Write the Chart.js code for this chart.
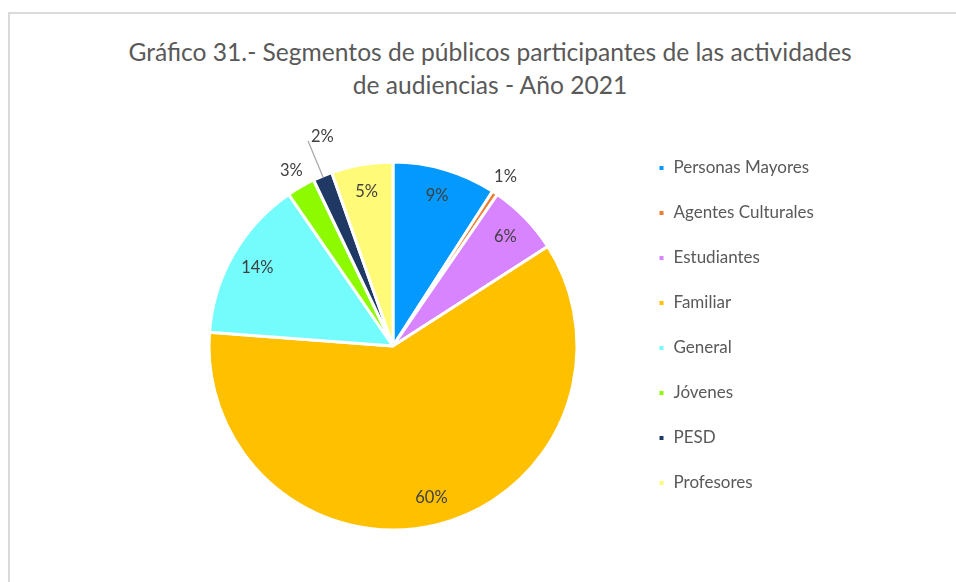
<!DOCTYPE html>
<html>
<head>
<meta charset="utf-8">
<script src="https://cdn.jsdelivr.net/npm/chart.js@4.4.1/dist/chart.umd.min.js"></script>
<style>
  html, body { margin: 0; padding: 0; background: #fff; overflow: hidden; }
  #frame {
    position: absolute; left: 8px; top: 12px; width: 1000px; height: 620px;
    border: 2px solid #dadada; box-sizing: border-box;
  }
  #title {
    position: absolute; left: 0; top: 35px; width: 980px; text-align: center;
    font-family: Lato, sans-serif; font-size: 24.6px; line-height: 33px; color: #595959;
  }
  #chart { position: absolute; left: 10px; top: 14px; }
</style>
</head>
<body>
<div id="frame"></div>
<div id="title"></div>
<canvas id="chart" width="900" height="568"></canvas>
<script>
// Data (share of participants, %)
const categories = ['Personas Mayores', 'Agentes Culturales', 'Estudiantes', 'Familiar', 'General', 'Jóvenes', 'PESD', 'Profesores'];
const shares = [9.1, 0.5, 6.3, 60.3, 14.2, 2.5, 1.7, 5.4];
const sliceColors = ['#0399fe', '#ed7d31', '#d883ff', '#ffc000', '#74fcfd', '#8efa00', '#203864', '#fffb78'];
const titleLines = ['Gráfico 31.- Segmentos de públicos participantes de las actividades', 'de audiencias - Año 2021'];

// title as two centred lines of text
const titleEl = document.getElementById('title');
titleLines.forEach(line => {
  const d = document.createElement('div');
  d.textContent = line;
  titleEl.appendChild(d);
});

const canvas = document.getElementById('chart');
const legendFontSize = 17;
const legendPad = 28;
const boxSize = 7;

// work out the legend width so that the legend starts where we want it
const mctx = canvas.getContext('2d');
mctx.font = legendFontSize + 'px Lato';
const longest = Math.max(...categories.map(c => mctx.measureText(c).width));
const legendWidth = legendPad + boxSize + legendFontSize / 2 + longest + 10;
const legendLeft = 620;   // canvas x where the legend box starts
const padRight = canvas.width - legendLeft - legendWidth;

// Draws the percentage labels (inside for big slices, outside for small ones)
const pctLabels = {
  id: 'pctLabels',
  afterDatasetsDraw(chart, args, opts) {
    const ctx = chart.ctx;
    const meta = chart.getDatasetMeta(0);
    const values = chart.data.datasets[0].data;
    const total = values.reduce((a, b) => a + b, 0);
    ctx.save();
    ctx.font = opts.font;
    ctx.fillStyle = opts.color;
    meta.data.forEach((arc, i) => {
      const p = arc.getProps(['x', 'y', 'startAngle', 'endAngle', 'outerRadius'], true);
      const mid = (p.startAngle + p.endAngle) / 2;
      const pct = values[i] / total * 100;
      const text = Math.round(pct) + '%';
      const cos = Math.cos(mid), sin = Math.sin(mid);
      ctx.textBaseline = 'middle';
      if (pct >= opts.insideMin) {
        ctx.textAlign = 'center';
        const r = p.outerRadius * opts.insideRatio;
        ctx.fillText(text, p.x + cos * r, p.y + sin * r);
      } else if (opts.callouts[i]) {
        // label pushed out with a leader line
        const r2 = p.outerRadius + opts.callouts[i];
        const ax = p.x + cos * r2, ay = p.y + sin * r2;
        ctx.strokeStyle = '#a6a6a6';
        ctx.lineWidth = 1.2;
        ctx.beginPath();
        ctx.moveTo(p.x + cos * (p.outerRadius - 2), p.y + sin * (p.outerRadius - 2));
        ctx.lineTo(ax, ay);
        ctx.stroke();
        ctx.textAlign = 'left';
        ctx.fillText(text, ax + 3, ay - 4);
      } else {
        ctx.textAlign = 'center';
        const r = p.outerRadius + opts.outsideGap;
        ctx.fillText(text, p.x + cos * r, p.y + sin * r);
      }
    });
    ctx.restore();
  }
};

const chart = new Chart(canvas, {
  type: 'pie',
  data: {
    labels: categories,
    datasets: [{
      data: shares,
      backgroundColor: sliceColors,
      borderColor: '#ffffff',
      borderWidth: 3,
      radius: 184
    }]
  },
  plugins: [pctLabels],
  options: {
    responsive: false,
    devicePixelRatio: 1,
    animation: false,
    events: [],
    layout: { padding: { left: 146, right: padRight, top: 117.5, bottom: 21.5 } },
    plugins: {
      title: { display: false },
      legend: {
        position: 'right',
        align: 'start',
        fullSize: false,
        labels: {
          boxWidth: boxSize,
          boxHeight: boxSize,
          padding: legendPad,
          color: '#595959',
          font: { family: 'Lato', size: legendFontSize }
        }
      },
      tooltip: { enabled: false },
      pctLabels: {
        font: '16.5px Lato',
        color: '#404040',
        insideMin: 4,
        insideRatio: 0.85,
        outsideGap: 19,
        callouts: { 6: 38 }
      }
    }
  }
});
</script>
</body>
</html>
